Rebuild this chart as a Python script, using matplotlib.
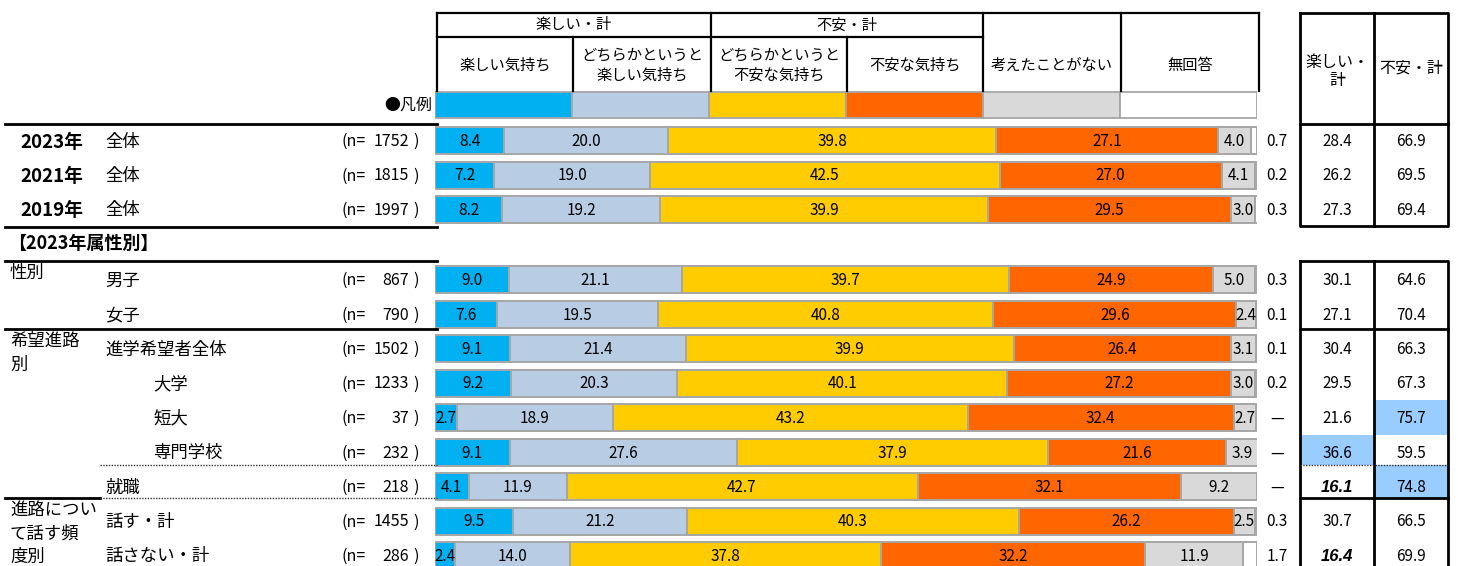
import matplotlib
matplotlib.use("Agg")
import matplotlib.pyplot as plt
import numpy as np

plt.rcParams['font.family'] = ['Noto Sans CJK JP', 'DejaVu Sans']

# ---------------- data ----------------
categories = ['楽しい気持ち', 'どちらかというと\n楽しい気持ち', 'どちらかというと\n不安な気持ち',
              '不安な気持ち', '考えたことがない', '無回答']
group_labels = ['2023年', '2021年', '2019年', '性別', '', '希望進路\n別', '', '', '', '',
                '進路につい\nて話す頻\n度別', '']
row_labels = ['全体', '全体', '全体', '男子', '女子', '進学希望者全体', '大学', '短大', '専門学校',
              '就職', '話す・計', '話さない・計']
indented = [False, False, False, False, False, False, True, True, True, False, False, False]
n_values = [1752, 1815, 1997, 867, 790, 1502, 1233, 37, 232, 218, 1455, 286]

enjoy = [8.4, 7.2, 8.2, 9.0, 7.6, 9.1, 9.2, 2.7, 9.1, 4.1, 9.5, 2.4]
somewhat_enjoy = [20.0, 19.0, 19.2, 21.1, 19.5, 21.4, 20.3, 18.9, 27.6, 11.9, 21.2, 14.0]
somewhat_anxious = [39.8, 42.5, 39.9, 39.7, 40.8, 39.9, 40.1, 43.2, 37.9, 42.7, 40.3, 37.8]
anxious = [27.1, 27.0, 29.5, 24.9, 29.6, 26.4, 27.2, 32.4, 21.6, 32.1, 26.2, 32.2]
never_thought = [4.0, 4.1, 3.0, 5.0, 2.4, 3.1, 3.0, 2.7, 3.9, 9.2, 2.5, 11.9]
no_answer = [0.7, 0.2, 0.3, 0.3, 0.1, 0.1, 0.2, None, None, None, 0.3, 1.7]

enjoy_total = [28.4, 26.2, 27.3, 30.1, 27.1, 30.4, 29.5, 21.6, 36.6, 16.1, 30.7, 16.4]
anxious_total = [66.9, 69.5, 69.4, 64.6, 70.4, 66.3, 67.3, 75.7, 59.5, 74.8, 66.5, 69.9]

colors = ['#00B0F0', '#B8CCE4', '#FFCC00', '#FF6600', '#D9D9D9', '#FFFFFF']

# ---------------- layout ----------------
W, H = 1458, 566
fig = plt.figure(figsize=(W / 100, H / 100), dpi=100)

BX0, BX1 = 435, 1257
bx = fig.add_axes([BX0 / W, 0, (BX1 - BX0) / W, 1])
bx.set_xlim(0, 100)
bx.set_ylim(H, 0)
bx.axis('off')

ax = fig.add_axes([0, 0, 1, 1])
ax.set_xlim(0, W)
ax.set_ylim(H, 0)
ax.axis('off')

pitch = 34.5
row_y = [140.5 + pitch * i for i in range(3)] + [279.5 + pitch * i for i in range(9)]
bar_h = 27
legend_y = 105

# legend boxes
leg_w = 100 / 6
bx.barh([legend_y] * 6, [leg_w] * 6, left=[leg_w * i for i in range(6)], height=26,
        color=colors, edgecolor='#A6A6A6', linewidth=1.3)

# stacked bars
series = [enjoy, somewhat_enjoy, somewhat_anxious, anxious, never_thought, no_answer]
for r, y in enumerate(row_y):
    left = 0.0
    for s, vals in enumerate(series):
        v = vals[r]
        if v is None:
            continue
        bx.barh(y, v, left=left, height=bar_h, color=colors[s], edgecolor='#A6A6A6',
                linewidth=1.4)
        if s < 5:
            bx.text(left + v / 2, y + 1, f'{v:.1f}', ha='center', va='center', fontsize=11,
                    color='black')
        left += v
    na = no_answer[r]
    ax.text(1277, y + 1, '—' if na is None else f'{na:.1f}', ha='center', va='center',
            fontsize=11)

# ---------------- header table ----------------
lw = 1.6
hx = [437, 573, 711, 847, 983, 1121, 1259]
ax.plot([437, 1259], [13, 13], color='black', lw=lw)
ax.plot([437, 983], [37, 37], color='black', lw=lw)
for x in hx:
    y0 = 37 if x in (573, 847) else 13
    ax.plot([x, x], [y0, 91], color='black', lw=lw)
ax.text((437 + 711) / 2, 25, '楽しい・計', ha='center', va='center', fontsize=11)
ax.text((711 + 983) / 2, 25, '不安・計', ha='center', va='center', fontsize=11)
for i, c in enumerate(categories):
    cx = (hx[i] + hx[i + 1]) / 2
    ax.text(cx, 65, c, ha='center', va='center', fontsize=11, linespacing=1.25)
ax.text(432, 105, '●凡例', ha='right', va='center', fontsize=11.5)

# ---------------- left labels ----------------
for y in (124, 227, 261, 329):
    ax.plot([5, 437], [y, y], color='black', lw=2)
ax.plot([100, 437], [465, 465], color='#333333', lw=1, ls=(0, (1, 1)))
ax.plot([5, 100], [498, 498], color='black', lw=2)
ax.plot([100, 437], [498, 498], color='#333333', lw=1, ls=(0, (1, 1)))

ax.text(8, 243, '【2023年属性別】', ha='left', va='center', fontsize=13, fontweight='bold')

group_first_line = {0: 142, 1: 176, 2: 210, 3: 273, 5: 341, 10: 510}
for r, g in enumerate(group_labels):
    if not g:
        continue
    y0 = group_first_line[r]
    if r < 3:
        ax.text(20, y0, g, ha='left', va='center', fontsize=13.5, fontweight='bold')
    else:
        for k, line in enumerate(g.split('\n')):
            ax.text(10, y0 + 23.5 * k, line, ha='left', va='center', fontsize=12.5)

for r, y in enumerate(row_y):
    lx = 153 if indented[r] else 105
    ax.text(lx, y + 1, row_labels[r], ha='left', va='center', fontsize=12.5)
    ax.text(342, y + 1, '(n=', ha='left', va='center', fontsize=11.5)
    ax.text(409, y + 1, f'{n_values[r]}', ha='right', va='center', fontsize=11.5)
    ax.text(413, y + 1, ')', ha='left', va='center', fontsize=11.5)

# ---------------- right summary table ----------------
TX0, TXM, TX1 = 1300, 1374, 1448
highlight = {(7, 1), (8, 0), (9, 1)}
low_mark = {(9, 0), (11, 0)}
for (r, c) in highlight:
    y = row_y[r]
    top = y - pitch / 2
    bot = y + pitch / 2
    if r == 8:
        bot = 465
    if r == 9:
        top, bot = 465, 498
    x0 = TX0 if c == 0 else TXM
    ax.fill([x0, x0 + 74, x0 + 74, x0], [top, top, bot, bot], color='#99CCFF', lw=0, zorder=0)

for (y0, y1) in ((13, 226), (261, 580)):
    ax.plot([TX0, TX1, TX1, TX0, TX0], [y0, y0, y1, y1, y0], color='black', lw=2)
    ax.plot([TXM, TXM], [y0, y1], color='black', lw=2)
ax.plot([TX0, TX1], [124, 124], color='black', lw=2)
ax.plot([TX0, TX1], [329, 329], color='black', lw=2)
ax.plot([TX0, TX1], [498, 498], color='black', lw=2)
ax.plot([TX0, TX1], [465, 465], color='#333333', lw=1, ls=(0, (1, 1)))

ax.text((TX0 + TXM) / 2, 62, '楽しい・', ha='center', va='center', fontsize=11.5)
ax.text((TX0 + TXM) / 2, 80, '計', ha='center', va='center', fontsize=11.5)
ax.text((TXM + TX1) / 2, 68, '不安・計', ha='center', va='center', fontsize=11.5)

for r, y in enumerate(row_y):
    for c, vals in enumerate((enjoy_total, anxious_total)):
        cx = (TX0 + TXM) / 2 if c == 0 else (TXM + TX1) / 2
        if (r, c) in low_mark:
            ax.text(cx, y + 1, f'{vals[r]:.1f}', ha='center', va='center', fontsize=12,
                    fontweight='bold', fontstyle='italic', family='Liberation Sans')
        else:
            ax.text(cx, y + 1, f'{vals[r]:.1f}', ha='center', va='center', fontsize=11)

fig.savefig('out.png', dpi=100)
